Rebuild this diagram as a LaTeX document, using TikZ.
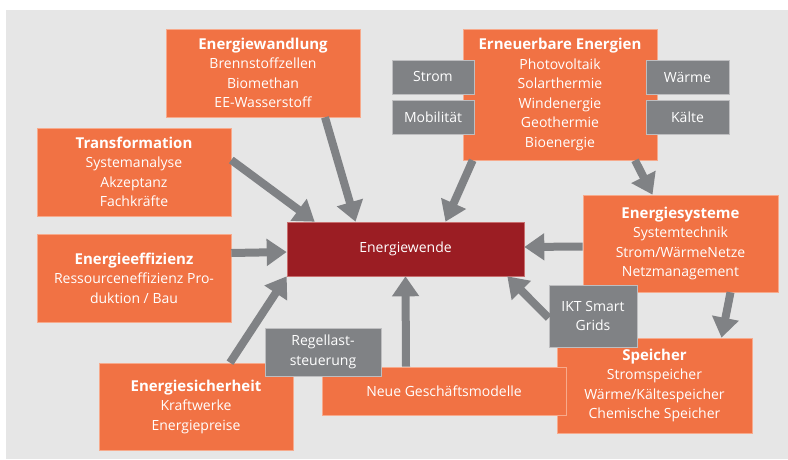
\documentclass[tikz,border=0pt]{standalone}
\usepackage{fontspec}
\setmainfont{Open Sans}
\usetikzlibrary{arrows.meta}

\definecolor{panel}{RGB}{230,230,230}
\definecolor{orangebox}{RGB}{241,114,68}
\definecolor{orangeline}{RGB}{247,170,140}
\definecolor{graybox}{RGB}{128,130,133}
\definecolor{grayline}{RGB}{190,190,192}
\definecolor{wendered}{RGB}{155,29,35}
\definecolor{wendeline}{RGB}{200,110,110}
\definecolor{arrowgray}{RGB}{128,130,133}

\newcommand{\titel}[1]{{\fontsize{15}{19.5}\selectfont\bfseries #1}}

\begin{document}
\begin{tikzpicture}[x=1pt,y=-1pt,
	box/.style={fill=orangebox, draw=orangeline, line width=0.6pt, text=white, align=center, inner sep=0pt, font=\fontsize{14}{19.5}\selectfont},
	tag/.style={box, fill=graybox, draw=grayline},
	pfeil/.style={draw=arrowgray, line width=8pt, -{Triangle[length=20pt,width=26pt]}}]

	% Hintergrund
	\useasboundingbox (0,0) rectangle (788,460);
	\fill[panel] (6,10) rectangle (788,459);

	% Themenfelder
	\node[box, minimum width=194pt, minimum height=88pt] (wandlung) at (263,73)
		{\titel{Energiewandlung}\\Brennstoffzellen\\Biomethan\\EE-Wasserstoff};
	\node[box, minimum width=194pt, minimum height=88pt] (trafo) at (134,172)
		{\titel{Transformation}\\Systemanalyse\\Akzeptanz\\Fachkräfte};
	\node[box, minimum width=194pt, minimum height=88pt] (effizienz) at (134,278)
		{\titel{Energieeffizienz}\\Ressourceneffizienz Pro-\\duktion / Bau};
	\node[box, minimum width=194pt, minimum height=87pt] (sicherheit) at (196,406.5)
		{\titel{Energiesicherheit}\\Kraftwerke\\Energiepreise};
	\node[box, minimum width=194pt, minimum height=131pt] (erneuerbar) at (560,94.5)
		{\titel{Erneuerbare Energien}\\Photovoltaik\\Solarthermie\\Windenergie\\Geothermie\\Bioenergie};
	\node[box, minimum width=195pt, minimum height=97pt] (systeme) at (680.5,243.5)
		{\titel{Energiesysteme}\\Systemtechnik\\Strom/WärmeNetze\\Netzmanagement};
	\node[box, minimum width=195pt, minimum height=95pt] (speicher) at (654.5,385.5)
		{\titel{Speicher}\\Stromspeicher\\Wärme/Kältespeicher\\Chemische Speicher};
	\node[box, minimum width=244pt, minimum height=48pt] (modelle) at (444,391)
		{Neue Geschäftsmodelle};
	\node[box, fill=wendered, draw=wendeline, minimum width=237pt, minimum height=54pt] (wende) at (405.5,249)
		{Energiewende};

	% Querschnittsthemen
	\node[tag, minimum width=82pt, minimum height=34pt] (strom) at (433,77) {Strom};
	\node[tag, minimum width=82pt, minimum height=34pt] (mobil) at (433,117) {Mobilität};
	\node[tag, minimum width=83pt, minimum height=34pt] (waerme) at (687.5,77) {Wärme};
	\node[tag, minimum width=83pt, minimum height=34pt] (kaelte) at (687.5,117) {Kälte};
	\node[tag, minimum width=88pt, minimum height=62pt] (ikt) at (593,316) {IKT Smart\\Grids};
	\node[tag, minimum width=116pt, minimum height=48pt] (regellast) at (323,352) {Regellast-\\steuerung};

	% Pfeile
	\draw[pfeil] ([xshift=62pt]wandlung.south) -- ([xshift=-50pt]wende.north);
	\draw[pfeil] ([yshift=12pt]trafo.east) -- ([xshift=28pt]wende.north west);
	\draw[pfeil] ([yshift=25pt]effizienz.east) -- ([yshift=-3pt]wende.west);
	\draw[pfeil] ([xshift=34pt]sicherheit.north) -- (wende.south west);
	\draw[pfeil] ([xshift=-38pt]modelle.north) -- (wende.south);
	\draw[pfeil] ([yshift=-2pt]ikt.west) -- ([xshift=-17pt]wende.south east);
	\draw[pfeil] ([yshift=-3pt]systeme.west) -- ([yshift=2pt]wende.east);
	\draw[pfeil] ([xshift=10pt]erneuerbar.south west) -- ([xshift=40pt]wende.north);
	\draw[pfeil] ([xshift=75pt]erneuerbar.south) -- ([xshift=-28pt]systeme.north);
	\draw[pfeil] ([xshift=50pt]systeme.south) -- ([xshift=67pt]speicher.north);
\end{tikzpicture}
\end{document}
